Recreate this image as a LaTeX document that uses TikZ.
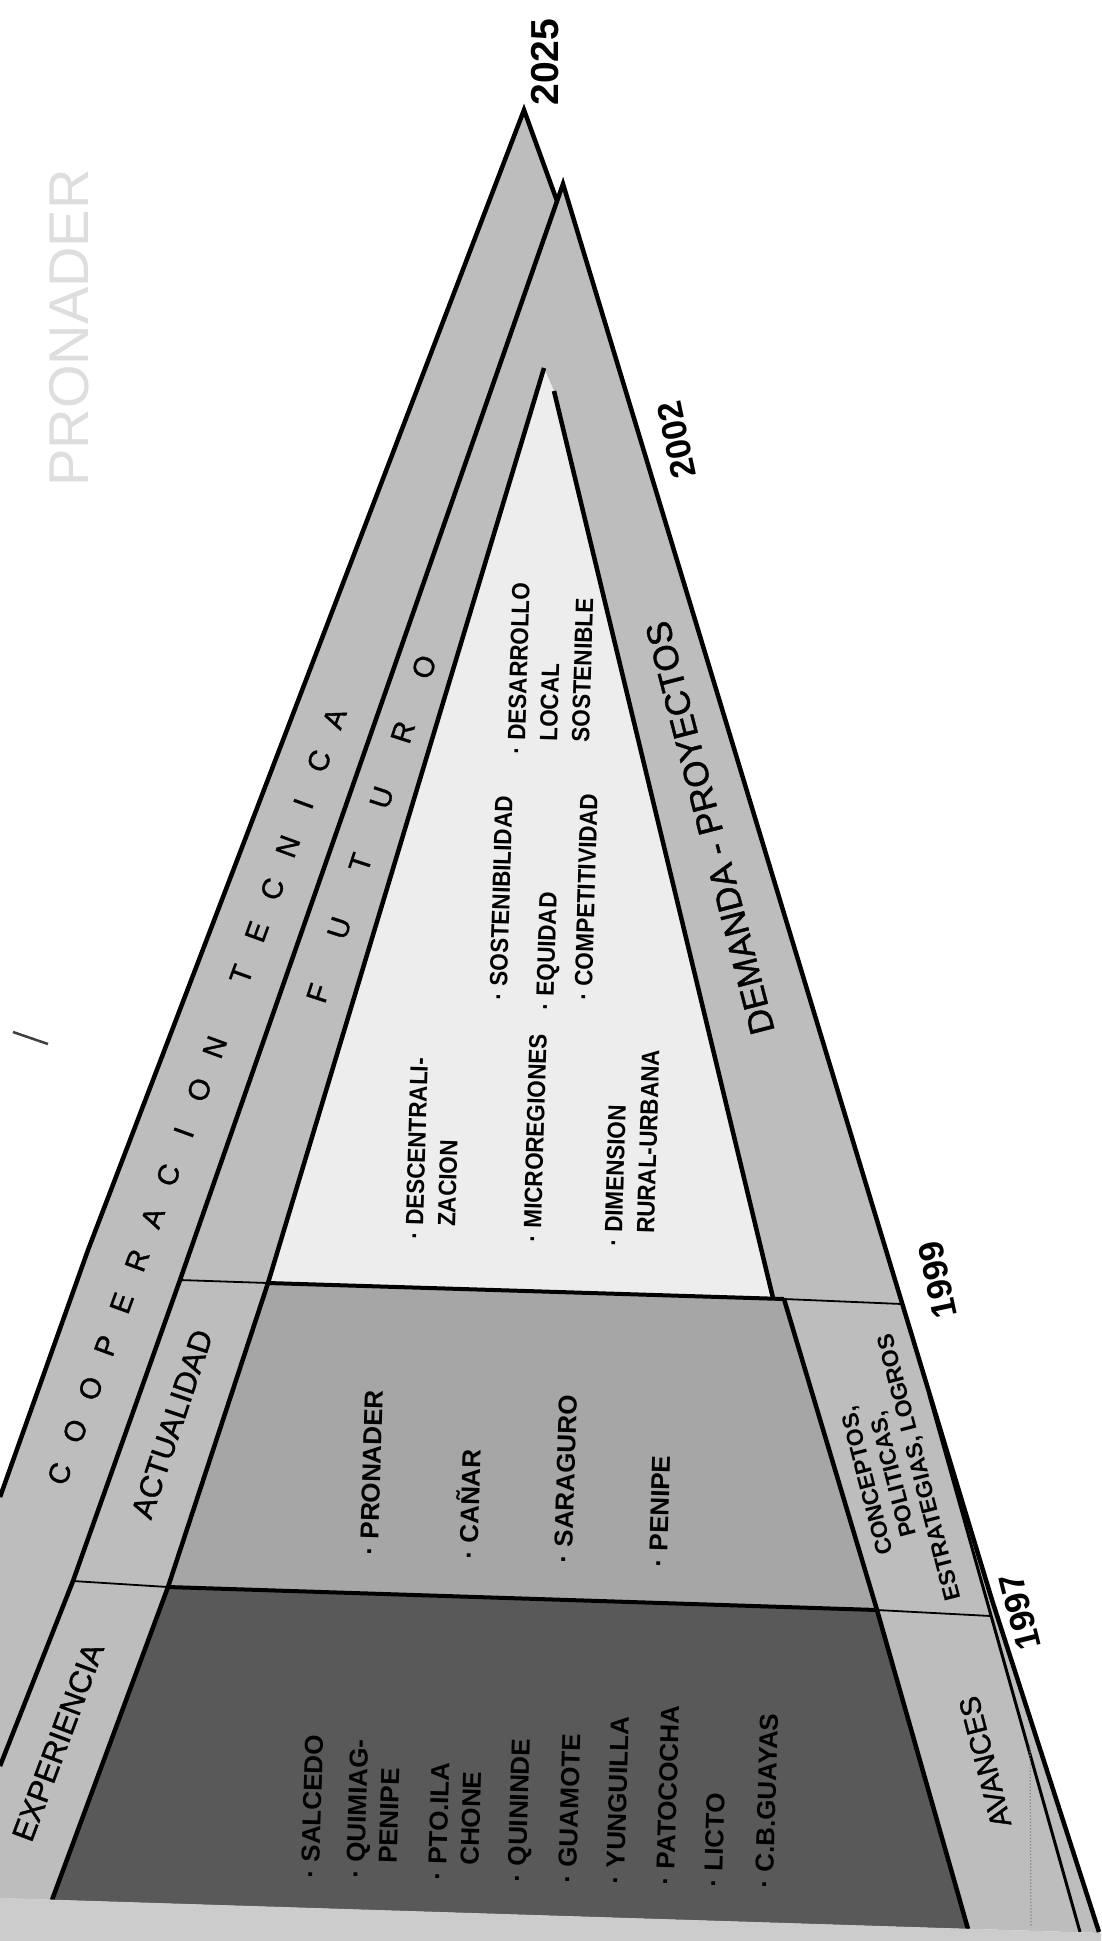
\documentclass[tikz,border=0pt]{standalone}
\usepackage{fontspec}
\setmainfont{Liberation Sans}
\newfontfamily\labelfont[FakeBold=1.2]{Liberation Sans}
\definecolor{bandgray}{gray}{0.74}
\definecolor{midgray}{gray}{0.65}
\definecolor{darkfill}{gray}{0.35}
\definecolor{lightfill}{gray}{0.93}
\definecolor{pagegray}{gray}{0.80}
\definecolor{wmark}{gray}{0.87}
\newcommand{\coopbox}[1]{\makebox[45.4pt]{#1}}
\newcommand{\futbox}[1]{\makebox[68.6pt]{#1}}
\newcommand{\cond}[1]{\scalebox{0.9}[1]{#1}}
\begin{document}
\begin{tikzpicture}[x=1pt,y=-1pt,
  edge/.style={line width=4.5pt, line join=miter},
  divthick/.style={line width=4pt},
  divthin/.style={line width=1.8pt},
  item/.style={font=\bfseries\fontsize{26}{32}\selectfont, rotate=88.3, anchor=west, align=left, inner sep=0pt},
  witem/.style={font=\bfseries\fontsize{25}{32}\selectfont, rotate=88.3, anchor=west, align=left, inner sep=0pt},
  bandlbl/.style={font=\labelfont\fontsize{31}{34}\selectfont, inner sep=0pt},
  spaced/.style={font=\labelfont\fontsize{29}{32}\selectfont, inner sep=0pt},
  year/.style={font=\bfseries\fontsize{35}{40}\selectfont, inner sep=0pt},
]
\useasboundingbox (0,0) rectangle (1101,1941);
\fill[white] (0,0) rectangle (1101,1941);
% key points
\coordinate (A) at (524,110);
\coordinate (X) at (557,201);
\coordinate (M) at (563,184);
\coordinate (a1) at (88,1250);
\coordinate (a2) at (0,1497);
\coordinate (b1) at (180,1280);
\coordinate (b2) at (73,1581);
\coordinate (b3) at (0,1766);
\coordinate (W) at (544,368);
\coordinate (Wr) at (554,391);
\coordinate (c1) at (268,1283);
\coordinate (c2) at (168,1587);
\coordinate (c3) at (52,1900);
\coordinate (w1) at (773,1298);
\coordinate (r0) at (784,1299);
\coordinate (r1) at (877,1610);
\coordinate (r2) at (968,1929);
\coordinate (o0) at (902,1304);
\coordinate (o1) at (992,1600);
\coordinate (o2) at (1099,1932);
\coordinate (g0) at (929,1395);
\coordinate (g1) at (991,1616);
\coordinate (g2) at (1080,1932);
\coordinate (bl) at (0,1898);
\coordinate (br) at (1101,1933);
% fills
\fill[bandgray] (A) -- (a1) -- (a2) -- (bl) -- (600,1917) -- (X) -- cycle;
\fill[bandgray] (M) -- (b1) -- (b2) -- (b3) -- (bl) -- (br) -- (o2) -- (o1) -- cycle;
\fill[lightfill] (W) -- (c1) -- (w1) -- (Wr) -- cycle;
\fill[midgray] (c1) -- (r0) -- (r1) -- (c2) -- cycle;
\fill[darkfill] (c2) -- (r1) -- (r2) -- (c3) -- cycle;
% lines
\draw[edge] (a2) -- (a1) -- (A) -- (X);
\draw[edge] (b3) -- (b2) -- (b1) -- (M) -- (o1) -- (o2);
\draw[edge] (W) -- (c1) -- (c2) -- (c3);
\draw[edge] (Wr) -- (w1);
\draw[edge] (r0) -- (r1) -- (r2);
\draw[line width=3pt] (g0) -- (g2);
\draw[divthick] (c1) -- (r0);
\draw[divthin] (b1) -- (c1);
\draw[divthin] (r0) -- (o0);
\draw[divthin] (b2) -- (c2);
\draw[divthick] (c2) -- (r1);
\draw[divthin] (r1) -- (g1);
\draw[gray, line width=1.2pt, dotted] (1030,1745) -- (1031,1926);
\draw[line width=2.5pt, black!75] (13,1032) -- (48,1044);
% page edge strip
\fill[pagegray] (bl) -- (br) -- (1101,1941) -- (0,1941) -- cycle;
% watermark
\node[font=\fontsize{56}{60}\selectfont, text=wmark, rotate=90, inner sep=0pt] (wm) at (69,328) {PRONADER};
% years
\node[year, font=\bfseries\fontsize{39}{42}\selectfont, rotate=90] (y2025) at (545,62) {2025};
\node[year, rotate=102] (y2002) at (677,440) {2002};
\node[year, rotate=102] (y1999) at (938,1280) {1999};
\node[year, rotate=104] (y1997) at (1020,1612) {1997};
% spaced band titles
\node[spaced, rotate=70] (coop) at (197,1096)
  {\coopbox{C}\coopbox{O}\coopbox{O}\coopbox{P}\coopbox{E}\coopbox{R}\coopbox{A}\coopbox{C}\coopbox{I}\coopbox{O}\coopbox{N}\hspace{32pt}\coopbox{T}\coopbox{E}\coopbox{C}\coopbox{N}\coopbox{I}\coopbox{C}\coopbox{A}};
\node[spaced, rotate=72] (fut) at (371,830)
  {\futbox{F}\futbox{U}\futbox{T}\futbox{U}\futbox{R}\futbox{O}};
% band labels
\node[bandlbl, rotate=71.5] (actual) at (172,1424) {ACTUALIDAD};
\node[bandlbl, rotate=69.5] (exper) at (58,1742) {EXPERIENCIA};
\node[bandlbl, font=\labelfont\fontsize{29}{32}\selectfont, rotate=104.5] (avan) at (985,1762) {AVANCES};
\node[font=\labelfont\fontsize{35}{38}\selectfont, rotate=104.5, inner sep=0pt] (dem) at (710,828) {DEMANDA - PROYECTOS};
\node[font=\bfseries\fontsize{23}{27}\selectfont, rotate=104.5, align=center, inner sep=0pt] (conc) at (894,1474) {CONCEPTOS,\\POLITICAS,\\ESTRATEGIAS, LOGROS};
% white area items
\node[witem] (desc) at (430,1240) {\cond{·\ DESCENTRALI-}\\\cond{\phantom{·\ }ZACION}};
\node[witem] (micro) at (532,1242) {\cond{·\ MICROREGIONES}};
\node[witem] (equi) at (547,1010) {\cond{·\ EQUIDAD}};
\node[witem] (soste) at (498,1000) {\cond{·\ SOSTENIBILIDAD}};
\node[witem] (compe) at (583,1000) {\cond{·\ COMPETITIVIDAD}};
\node[witem] (desar) at (548,755) {\cond{·\ DESARROLLO}\\\cond{\phantom{·\ }LOCAL}\\\cond{\phantom{·\ }SOSTENIBLE}};
\node[witem] (dimen) at (629,1247) {\cond{·\ DIMENSION}\\\cond{\phantom{·\ }RURAL-URBANA}};
% gray area items
\node[item] (pron) at (369,1555) {·\ PRONADER};
\node[item] (canar) at (466,1559) {·\ CAÑAR};
\node[item] (sarag) at (563,1563) {·\ SARAGURO};
\node[item] (penipe) at (658,1567) {·\ PENIPE};
% dark area items
\node[item] (salc) at (310,1878) {·\ SALCEDO};
\node[item] (quim) at (371,1879) {·\ QUIMIAG-\\\phantom{·\ }PENIPE};
\node[item] (pto) at (453,1881) {·\ PTO.ILA\\\phantom{·\ }CHONE};
\node[item] (quin) at (519,1882) {·\ QUININDE};
\node[item] (guam) at (567,1883) {·\ GUAMOTE};
\node[item] (yung) at (615,1884) {·\ YUNGUILLA};
\node[item] (pato) at (665,1885) {·\ PATOCOCHA};
\node[item] (licto) at (713,1887) {·\ LICTO};
\node[item] (cbg) at (764,1888) {·\ C.B.GUAYAS};
\end{tikzpicture}
\end{document}
